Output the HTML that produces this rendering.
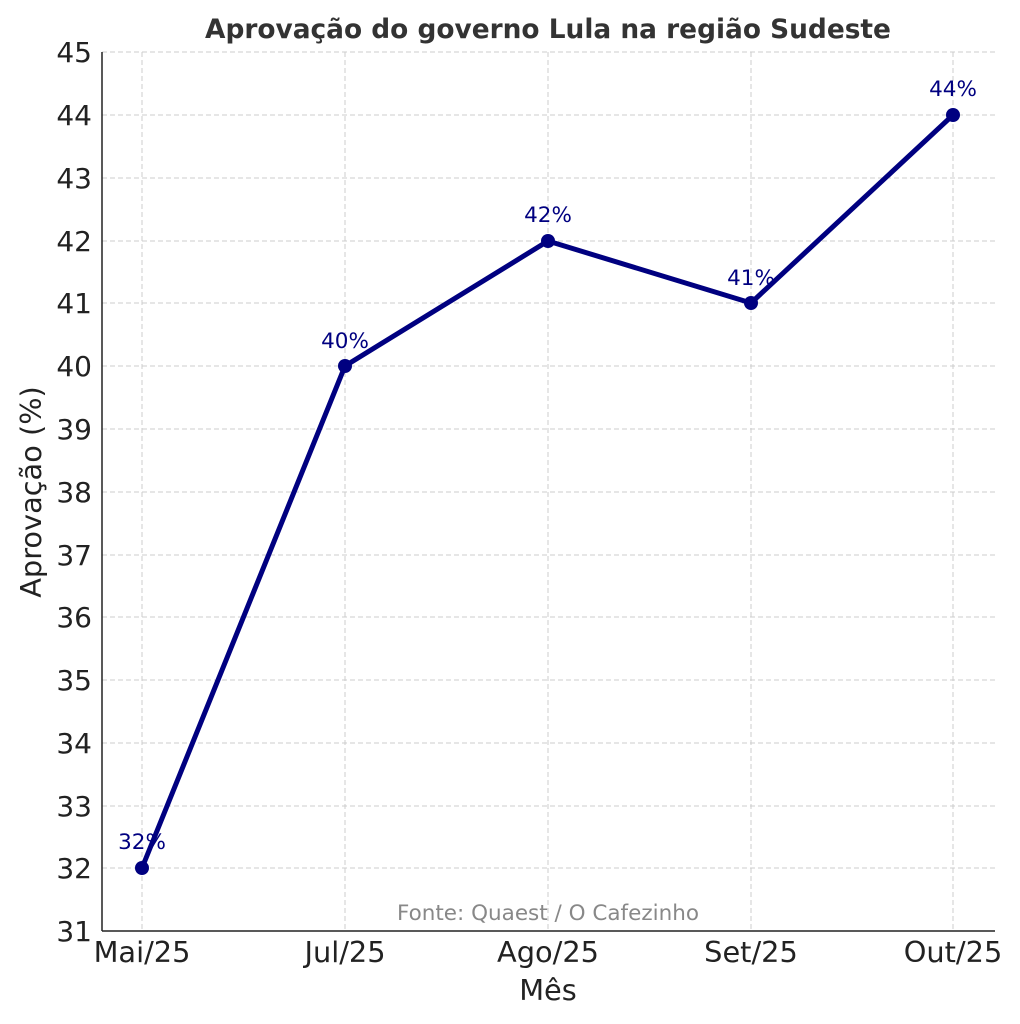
<!DOCTYPE html>
<html><head><meta charset="utf-8"><style>body{margin:0;background:#fff}svg{display:block}text{font-family:"DejaVu Sans","Liberation Sans",sans-serif}</style></head><body>
<svg width="1020" height="1024" viewBox="0 0 1020 1024" xmlns="http://www.w3.org/2000/svg">
<text x="548" y="38" text-anchor="middle" font-size="26.4" font-weight="bold" fill="#333">Aprovação do governo Lula na região Sudeste</text>
<g stroke="#ccc" stroke-width="1" stroke-dasharray="5,3">
<line x1="142" y1="52" x2="142" y2="931"/><line x1="345" y1="52" x2="345" y2="931"/><line x1="548" y1="52" x2="548" y2="931"/><line x1="751" y1="52" x2="751" y2="931"/><line x1="953" y1="52" x2="953" y2="931"/>
<line x1="102" y1="52" x2="995" y2="52"/><line x1="102" y1="115" x2="995" y2="115"/><line x1="102" y1="178" x2="995" y2="178"/><line x1="102" y1="241" x2="995" y2="241"/><line x1="102" y1="303" x2="995" y2="303"/><line x1="102" y1="366" x2="995" y2="366"/><line x1="102" y1="429" x2="995" y2="429"/><line x1="102" y1="492" x2="995" y2="492"/><line x1="102" y1="555" x2="995" y2="555"/><line x1="102" y1="617" x2="995" y2="617"/><line x1="102" y1="680" x2="995" y2="680"/><line x1="102" y1="743" x2="995" y2="743"/><line x1="102" y1="806" x2="995" y2="806"/><line x1="102" y1="868" x2="995" y2="868"/>
</g>
<g stroke="#222" stroke-width="1.5"><line x1="102" y1="52" x2="102" y2="931"/><line x1="102" y1="931" x2="995" y2="931"/></g>
<g font-size="28" fill="#222" text-anchor="end">
<text x="92" y="62">45</text><text x="92" y="125">44</text><text x="92" y="188">43</text><text x="92" y="251">42</text><text x="92" y="313">41</text><text x="92" y="376">40</text><text x="92" y="439">39</text><text x="92" y="502">38</text><text x="92" y="565">37</text><text x="92" y="627">36</text><text x="92" y="690">35</text><text x="92" y="753">34</text><text x="92" y="816">33</text><text x="92" y="878">32</text><text x="92" y="941">31</text>
</g>
<g font-size="28.8" fill="#222" text-anchor="middle">
<text x="142" y="962">Mai/25</text><text x="345" y="962">Jul/25</text><text x="548" y="962">Ago/25</text><text x="751" y="962">Set/25</text><text x="953" y="962">Out/25</text>
<text x="548" y="1000">Mês</text>
<text transform="translate(41,492) rotate(-90)">Aprovação (%)</text>
</g>
<polyline points="142,868 345,366 548,241 751,303 953,115" fill="none" stroke="#000080" stroke-width="5" stroke-linejoin="round"/>
<g fill="#000080"><circle cx="142" cy="868" r="7"/><circle cx="345" cy="366" r="7"/><circle cx="548" cy="241" r="7"/><circle cx="751" cy="303" r="7"/><circle cx="953" cy="115" r="7"/></g>
<g font-size="21.5" fill="#000080" text-anchor="middle">
<text x="142" y="849">32%</text><text x="345" y="348">40%</text><text x="548" y="222">42%</text><text x="751" y="285">41%</text><text x="953" y="96">44%</text>
</g>
<text x="548" y="920" text-anchor="middle" font-size="21.5" fill="#888">Fonte: Quaest / O Cafezinho</text>
</svg>
</body></html>
